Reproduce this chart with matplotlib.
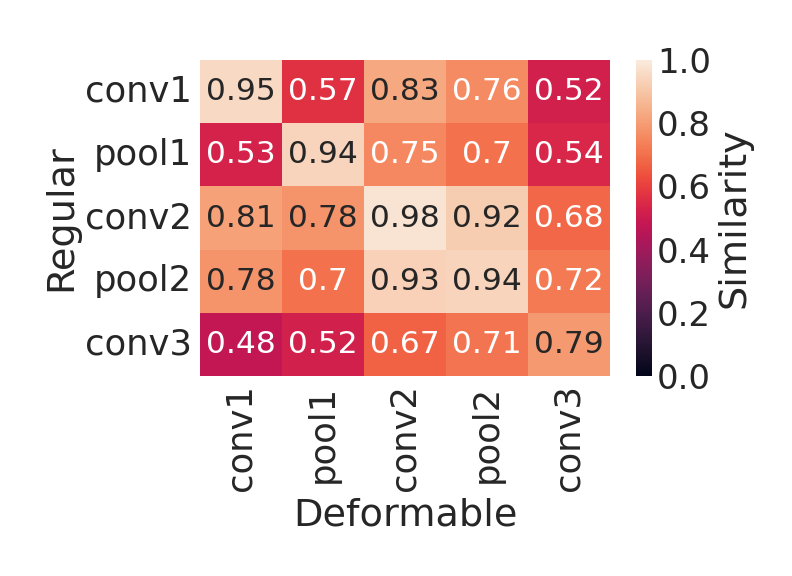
import matplotlib
matplotlib.use("Agg")
import matplotlib.pyplot as plt
import seaborn as sns
import numpy as np
import pandas as pd

rows = ["conv1", "pool1", "conv2", "pool2", "conv3"]
cols = ["conv1", "pool1", "conv2", "pool2", "conv3"]
values = [
    [0.95, 0.57, 0.83, 0.76, 0.52],
    [0.53, 0.94, 0.75, 0.70, 0.54],
    [0.81, 0.78, 0.98, 0.92, 0.68],
    [0.78, 0.70, 0.93, 0.94, 0.72],
    [0.48, 0.52, 0.67, 0.71, 0.79],
]

sns.set_theme(style="white")
plt.rcParams['font.family'] = ['DejaVu Sans']

df = pd.DataFrame(values, index=rows, columns=cols)
fig = plt.figure(figsize=(7.92, 5.76), dpi=100)
ax = fig.add_axes([0.2525, 0.347, 0.5177, 0.549])
cax = fig.add_axes([0.803, 0.347, 0.0202, 0.549])
sns.heatmap(df, ax=ax, cbar_ax=cax, vmin=0, vmax=1, annot=True, fmt="g",
            annot_kws={"size": 22.5}, cbar_kws={"label": "Similarity"})
ax.set_xlabel("Deformable", fontsize=27.5)
ax.set_ylabel("Regular", fontsize=27.5)
ax.tick_params(axis='both', labelsize=25.5, length=0, pad=6)
plt.setp(ax.get_yticklabels(), rotation=0)
plt.setp(ax.get_xticklabels(), rotation=90)
cax.tick_params(labelsize=24.5, length=0)
cax.yaxis.label.set_size(27.5)
cax.set_yticks([0, 0.2, 0.4, 0.6, 0.8, 1.0])
cax.set_yticklabels(["0.0", "0.2", "0.4", "0.6", "0.8", "1.0"])
fig.savefig("out.png", dpi=100)
